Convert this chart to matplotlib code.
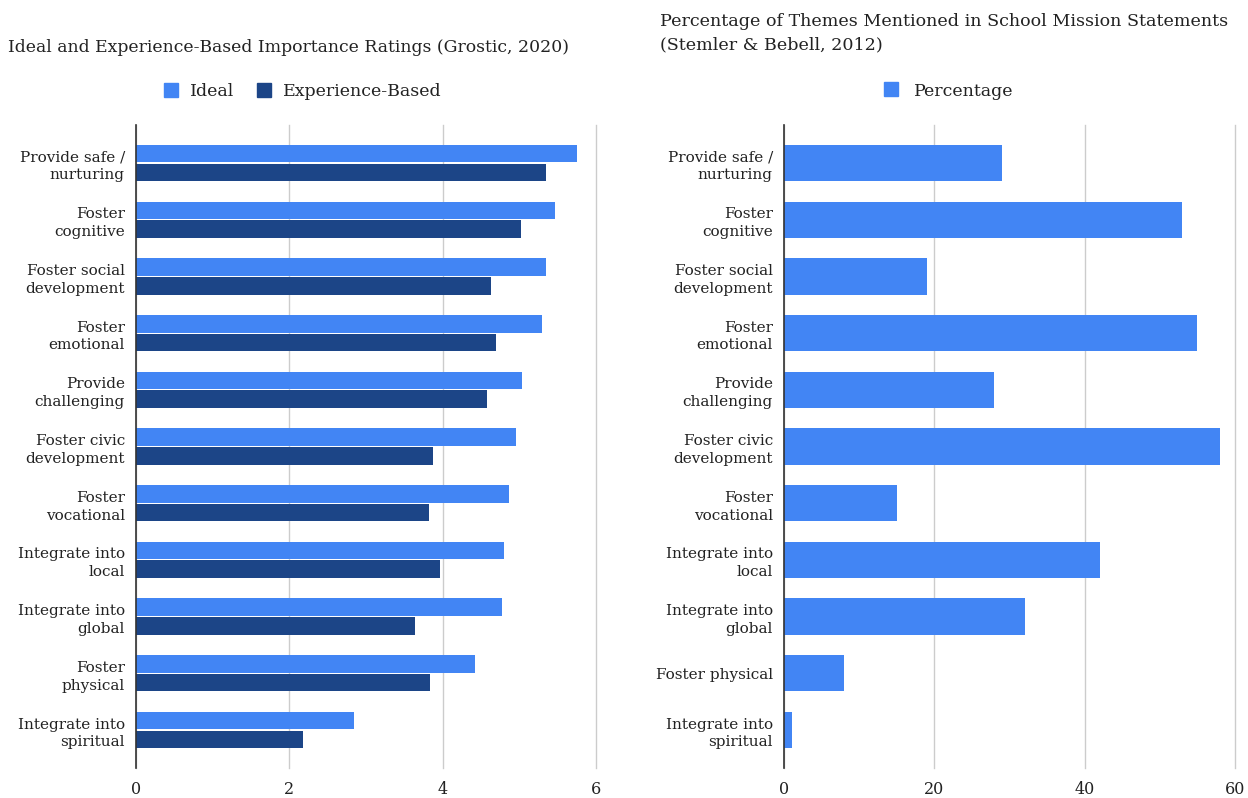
import matplotlib
matplotlib.use("Agg")
import matplotlib.pyplot as plt
from matplotlib.lines import Line2D
import numpy as np

plt.rcParams['font.family'] = ['DejaVu Serif']

# Grostic (2020): ideal vs experience-based importance ratings
left_categories = [
    "Provide safe /\nnurturing", "Foster\ncognitive", "Foster social\ndevelopment",
    "Foster\nemotional", "Provide\nchallenging", "Foster civic\ndevelopment",
    "Foster\nvocational", "Integrate into\nlocal", "Integrate into\nglobal",
    "Foster\nphysical", "Integrate into\nspiritual",
]
ideal = [5.75, 5.47, 5.35, 5.30, 5.03, 4.95, 4.87, 4.80, 4.78, 4.42, 2.84]
experience = [5.35, 5.02, 4.63, 4.70, 4.58, 3.87, 3.82, 3.97, 3.64, 3.84, 2.18]
left_ticks = [0, 2, 4, 6]

# Stemler & Bebell (2012): percentage of themes in mission statements
right_categories = [
    "Provide safe /\nnurturing", "Foster\ncognitive", "Foster social\ndevelopment",
    "Foster\nemotional", "Provide\nchallenging", "Foster civic\ndevelopment",
    "Foster\nvocational", "Integrate into\nlocal", "Integrate into\nglobal",
    "Foster physical", "Integrate into\nspiritual",
]
percentage = [29, 53, 19, 55, 28, 58, 15, 42, 32, 8, 1]
right_ticks = [0, 20, 40, 60]

C_IDEAL = "#4285F4"
C_EXP = "#1C4587"
TXT = "#222222"
GRID = "#CCCCCC"

W, H = 1248, 798
fig = plt.figure(figsize=(W / 100, H / 100), dpi=100)


def style_axes(ax, ticks, labels):
    n = len(labels)
    ax.set_ylim(n - 1 + 0.67, -0.67)
    ax.set_xlim(ticks[0], ticks[-1])
    ax.set_xticks(ticks)
    ax.set_xticklabels([str(t) for t in ticks], fontsize=11.5, color=TXT)
    ax.set_yticks(np.arange(n))
    ax.set_yticklabels(labels, fontsize=11, color=TXT, multialignment="right",
                       linespacing=1.35)
    ax.tick_params(axis="both", length=0)
    ax.tick_params(axis="y", pad=8)
    ax.tick_params(axis="x", pad=9)
    for s in ("top", "right", "bottom"):
        ax.spines[s].set_visible(False)
    ax.spines["left"].set_color("#333333")
    ax.spines["left"].set_linewidth(1.2)
    ax.spines["left"].set_zorder(4)
    ax.xaxis.grid(True, color=GRID, linewidth=1)
    for gl in ax.get_xgridlines():
        gl.set_clip_on(False)
    ax.set_axisbelow(True)


# Left chart
axL = fig.add_axes([136 / W, 30 / H, (596 - 136) / W, (768 - 125) / H])
y = np.arange(len(left_categories))
h = 0.31
axL.barh(y - h / 2 - 0.01, ideal, height=h, color=C_IDEAL, zorder=3)
axL.barh(y + h / 2 + 0.01, experience, height=h, color=C_EXP, zorder=3)
style_axes(axL, left_ticks, left_categories)

# Right chart
axR = fig.add_axes([784 / W, 30 / H, (1235 - 784) / W, (768 - 125) / H])
yr = np.arange(len(right_categories))
axR.barh(yr, percentage, height=0.64, color=C_IDEAL, zorder=3)
style_axes(axR, right_ticks, right_categories)

# Titles
fig.text(8 / W, 1 - 47 / H, "Ideal and Experience-Based Importance Ratings (Grostic, 2020)",
         fontsize=12.4, color=TXT, va="center", ha="left")
fig.text(660 / W, 1 - 33 / H,
         "Percentage of Themes Mentioned in School Mission Statements\n(Stemler & Bebell, 2012)",
         fontsize=12.6, color=TXT, va="center", ha="left", linespacing=1.45)

# Legends
def sq(c):
    return Line2D([], [], marker="s", linestyle="none", markersize=9.5,
                  markerfacecolor=c, markeredgecolor=c)

fig.legend([sq(C_IDEAL), sq(C_EXP)], ["Ideal", "Experience-Based"],
           loc="center", bbox_to_anchor=(302 / W, 1 - 92 / H), ncol=2, frameon=False,
           fontsize=12.5, handlelength=1.0, handletextpad=0.6, columnspacing=1.2,
           labelcolor=TXT)
fig.legend([sq(C_IDEAL)], ["Percentage"],
           loc="center", bbox_to_anchor=(948 / W, 1 - 91 / H), frameon=False,
           fontsize=12.5, handlelength=1.0, handletextpad=0.8, labelcolor=TXT)

fig.savefig("out.png", dpi=100, facecolor="white")
